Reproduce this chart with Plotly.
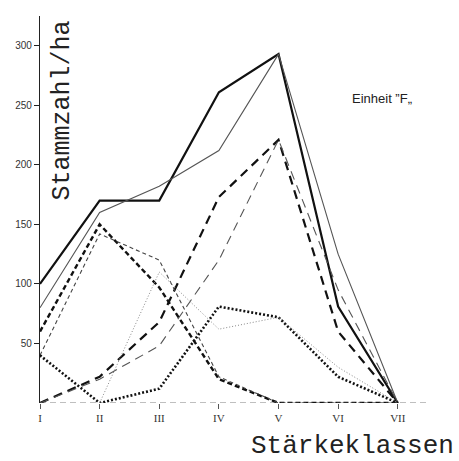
import plotly.graph_objects as go

# Diameter classes (Stärkeklassen) and stem counts per hectare
klassen = [1, 2, 3, 4, 5, 6, 7]
klassen_labels = ["I", "II", "III", "IV", "V", "VI", "VII"]

gesamt_a = [100, 170, 170, 261, 293, 81, 0]
gesamt_b = [80, 160, 182, 212, 293, 125, 0]
mittel_a = [0, 22, 68, 173, 221, 60, 0]
mittel_b = [0, 20, 48, 120, 221, 95, 0]
schwach_a = [60, 150, 97, 20, 0, 0, 0]
schwach_b = [40, 142, 120, 22, 0, 0, 0]
stark_a = [40, 0, 12, 81, 72, 22, 0]
stark_b = [None, 0, 110, 62, 72, 30, 0]

y_ticks = [50, 100, 150, 200, 250, 300]

series = [
    (gesamt_a, "#111111", 2.2, "solid"),
    (gesamt_b, "#555555", 1.1, "solid"),
    (mittel_a, "#111111", 2.2, "9px,6px"),
    (mittel_b, "#555555", 1.1, "9px,6px"),
    (schwach_a, "#111111", 2.4, "5px,3px"),
    (schwach_b, "#444444", 1.1, "4px,3px"),
    (stark_a, "#111111", 2.6, "2px,2px"),
    (stark_b, "#888888", 1.0, "1px,2px"),
]

fig = go.Figure()
for values, color, width, dash in series:
    fig.add_trace(go.Scatter(
        x=klassen, y=values, mode="lines",
        line=dict(color=color, width=width, dash=dash),
        showlegend=False, hoverinfo="skip",
    ))

# faint dashed baseline along the class axis
fig.add_shape(type="line", xref="paper", yref="y", x0=0, x1=1, y0=0, y1=0,
              line=dict(color="#aaaaaa", width=1.5, dash="6px,4px"), layer="below")

fig.update_layout(
    width=459, height=461,
    margin=dict(l=40, r=32, t=16, b=58),
    paper_bgcolor="white", plot_bgcolor="white",
    xaxis=dict(
        range=[1, 7.49], tickmode="array", tickvals=klassen, ticktext=klassen_labels,
        showgrid=False, zeroline=False, showline=False,
        ticks="outside", ticklen=5, tickcolor="#555555", tickwidth=1,
        tickfont=dict(family="Liberation Serif", size=11, color="#333333"),
    ),
    yaxis=dict(
        range=[0, 325], tickmode="array", tickvals=y_ticks,
        showgrid=False, zeroline=False, showline=True, linecolor="#222222", linewidth=1.2,
        ticks="outside", ticklen=5, tickcolor="#222222",
        tickfont=dict(family="Liberation Sans", size=10, color="#333333"),
    ),
    annotations=[
        dict(text="Stammzahl/ha", xref="paper", yref="paper", x=0.058, y=0.757,
             xanchor="center", yanchor="middle",
             textangle=-90, showarrow=False,
             font=dict(family="Liberation Mono", size=25, color="#222222")),
        dict(text="Stärkeklassen", xref="paper", yref="paper", x=1.075, y=-0.11,
             xanchor="right", yanchor="middle", showarrow=False,
             font=dict(family="Liberation Mono", size=26, color="#222222")),
        dict(text="Einheit \u201dF\u201e", xref="paper", yref="paper", x=0.80, y=0.787,
             xanchor="left", yanchor="middle", showarrow=False,
             font=dict(family="Liberation Sans", size=13, color="#222222")),
    ],
)

fig.write_html("out.html")
